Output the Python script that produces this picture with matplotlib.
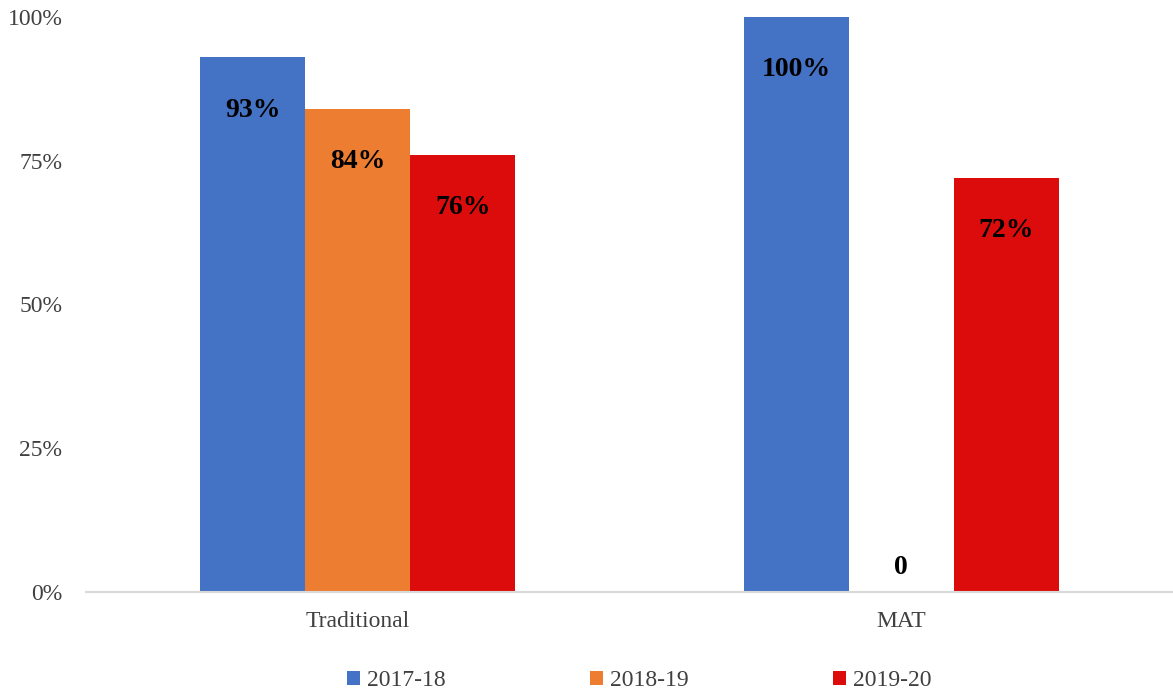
import numpy as np
import matplotlib.pyplot as plt

plt.rcParams['font.family'] = ['Liberation Serif', 'DejaVu Serif']

# 数据
categories = ['Traditional', 'MAT']
series_names = ['2017-18', '2018-19', '2019-20']
values = [
    [93, 100],   # 2017-18
    [84, 0],     # 2018-19
    [76, 72],    # 2019-20
]
colors = ['#4472C4', '#ED7D31', '#DC0C0C']

fig = plt.figure(figsize=(11.73, 6.96), dpi=100)
ax = fig.add_axes([0.0733, 0.1494, 0.9267, 0.8262])

x = np.arange(len(categories))
width = 0.193

for i, (name, vals) in enumerate(zip(series_names, values)):
    pos = x + (i - 1) * width
    ax.bar(pos, vals, width, color=colors[i], label=name)
    for px, v in zip(pos, vals):
        if v == 0:
            ax.annotate('0', (px, v), xytext=(0, 18), textcoords='offset points',
                        ha='center', va='center', fontsize=20, fontweight='bold')
        else:
            ax.annotate(f'{v}%', (px, v), xytext=(0, -38), textcoords='offset points',
                        ha='center', va='center', fontsize=20, fontweight='bold')

ax.set_xlim(-0.5, 1.5)
ax.set_ylim(0, 100)
ax.set_yticks([0, 25, 50, 75, 100])
ax.set_yticklabels(['0%', '25%', '50%', '75%', '100%'], color='#404040', fontsize=17)
ax.set_xticks(x)
ax.set_xticklabels(categories, color='#404040', fontsize=17)
ax.tick_params(axis='both', length=0)
ax.tick_params(axis='y', pad=17)
ax.tick_params(axis='x', pad=14)

for s in ['top', 'right', 'left']:
    ax.spines[s].set_visible(False)
ax.spines['bottom'].set_color('#D9D9D9')
ax.spines['bottom'].set_linewidth(1.5)

leg = fig.legend(loc='center', bbox_to_anchor=(0.545, 0.022), ncol=3, frameon=False,
                 fontsize=17, handlelength=0.55, handleheight=0.55, handletextpad=0.3,
                 columnspacing=6.1)
for t in leg.get_texts():
    t.set_color('#404040')

plt.savefig('out.png', dpi=100)
